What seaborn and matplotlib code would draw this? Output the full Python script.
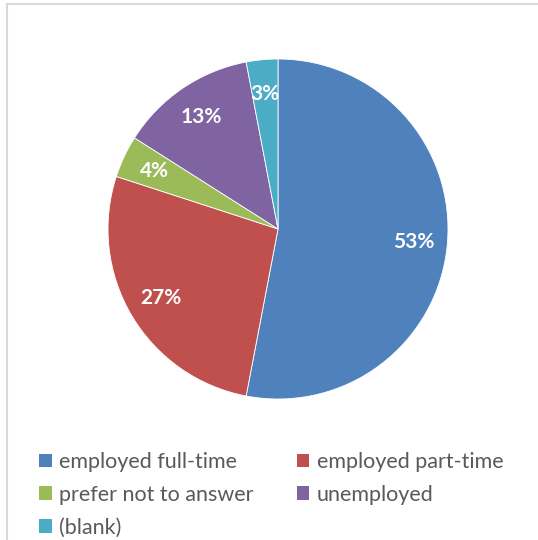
import matplotlib
matplotlib.use("Agg")
import matplotlib.pyplot as plt
from matplotlib.patches import Rectangle, Patch
import seaborn as sns

# Employment status shares (percent)
categories = ["employed full-time", "employed part-time", "prefer not to answer",
              "unemployed", "(blank)"]
shares = [53, 27, 4, 13, 3]
colors = ["#4F81BD", "#C0504D", "#9BBB59", "#8064A2", "#4BACC6"]

sns.set_theme(style="white")
plt.rcParams["font.family"] = ["Lato", "DejaVu Sans"]

W, H, DPI = 538, 540, 100
fig = plt.figure(figsize=(W / DPI, H / DPI), dpi=DPI)
fig.patch.set_facecolor("white")

# chart frame (runs off the right and bottom edges)
fig.patches.append(Rectangle((7 / W, -0.05), 1.2, (H - 4) / H + 0.05,
                             transform=fig.transFigure, fill=False,
                             edgecolor="#D9D9D9", linewidth=1.5))

# pie: center (278, 229) px, radius 170 px
cx, cy, r = 278, 229, 170
ax = fig.add_axes([(cx - r) / W, (H - cy - r) / H, 2 * r / W, 2 * r / H])
sns.set_palette(colors)
wedges, texts, autotexts = ax.pie(
    shares, colors=colors, startangle=90, counterclock=False,
    autopct=lambda p: f"{p:.0f}%", pctdistance=0.8,
    wedgeprops=dict(linewidth=0.6, edgecolor="white"),
    textprops=dict(color="white", fontsize=15, fontweight="bold"))
ax.set_xlim(-1, 1)
ax.set_ylim(-1, 1)
ax.set_aspect("equal")
ax.axis("off")

# legend, filled row by row (matplotlib fills columns first)
order = [0, 2, 4, 1, 3]
handles = [Patch(facecolor=colors[i], edgecolor="none") for i in order]
labels = [categories[i] for i in order]
leg = fig.legend(handles, labels, ncol=2, loc="upper left",
                 bbox_to_anchor=(39 / W, 1 - 452 / H), frameon=False,
                 fontsize=15.5, handlelength=0.6, handleheight=0.6,
                 handletextpad=0.33, columnspacing=2.0, labelspacing=0.59,
                 borderaxespad=0, borderpad=0)
for t in leg.get_texts():
    t.set_color("#595959")

fig.savefig("out.png", dpi=DPI)
